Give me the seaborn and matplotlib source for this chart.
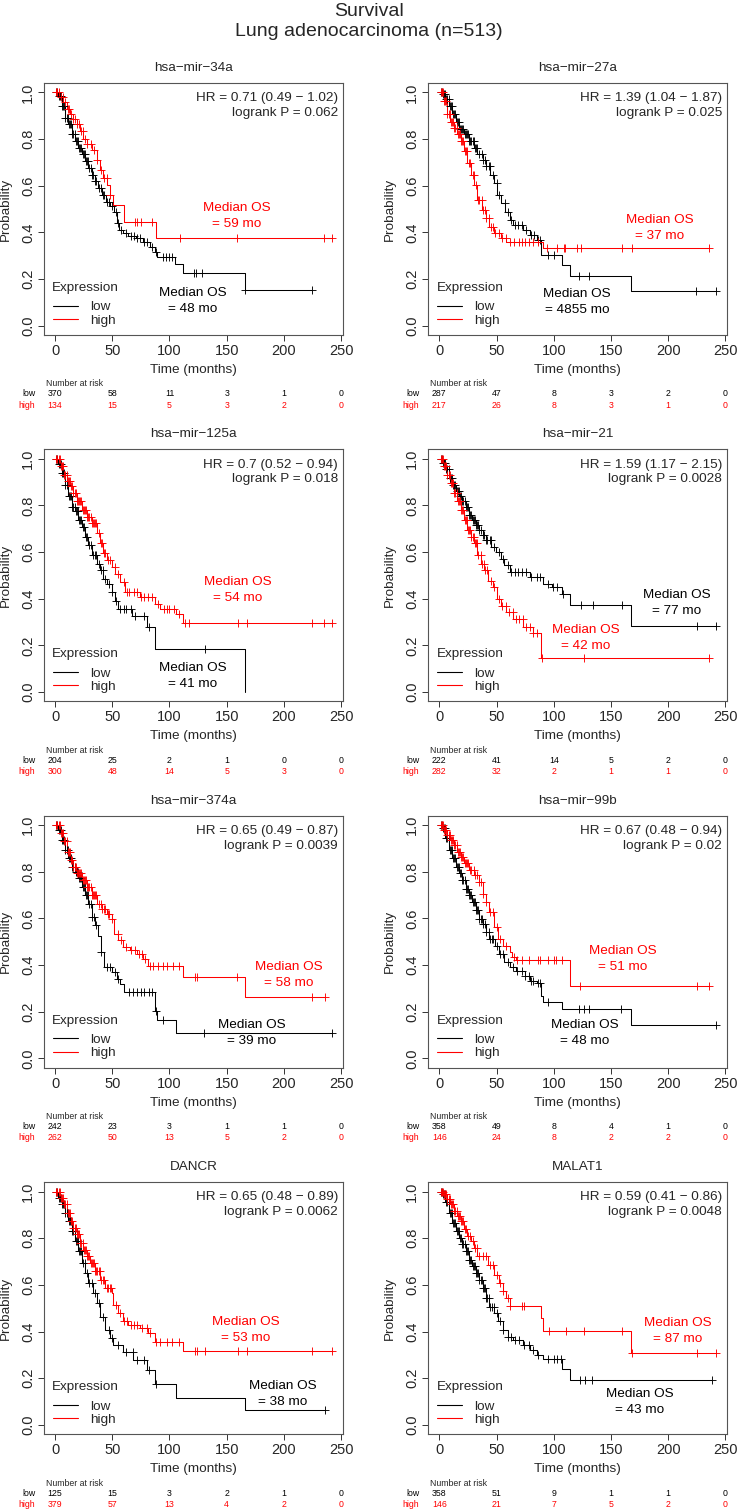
import numpy as np
import matplotlib.pyplot as plt
import matplotlib.transforms as mtransforms
from matplotlib.lines import Line2D
import seaborn as sns

sns.set_theme(style="white")
plt.rcParams['font.family'] = ['Liberation Sans', 'DejaVu Sans']

# ---- datos ----
times_risk = [0, 50, 100, 150, 200, 250]
genes = ["hsa−mir−34a", "hsa−mir−27a", "hsa−mir−125a", "hsa−mir−21",
         "hsa−mir−374a", "hsa−mir−99b", "DANCR", "MALAT1"]
hr_text = ["0.71 (0.49 − 1.02)", "1.39 (1.04 − 1.87)", "0.7 (0.52 − 0.94)", "1.59 (1.17 − 2.15)",
           "0.65 (0.49 − 0.87)", "0.67 (0.48 − 0.94)", "0.65 (0.48 − 0.89)", "0.59 (0.41 − 0.86)"]
logrank_p = ["0.062", "0.025", "0.018", "0.0028", "0.0039", "0.02", "0.0062", "0.0048"]
median_low = [48, 4855, 41, 77, 39, 48, 38, 43]
median_high = [59, 37, 54, 42, 58, 51, 53, 87]
# posicion (t, prob) de las etiquetas de mediana
median_low_pos = [(120.6, 0.105), (120.3, 0.102), (120.6, 0.069), (207.3, 0.383),
                  (172, 0.109), (127, 0.109), (199, 0.132), (175, 0.099)]
median_high_pos = [(159, 0.47), (192.8, 0.417), (159.3, 0.438), (127.7, 0.232),
                   (204.4, 0.359), (160, 0.425), (167, 0.407), (208, 0.401)]

risk_low = [[370, 58, 11, 3, 1, 0], [287, 47, 8, 3, 2, 0], [204, 25, 2, 1, 0, 0], [222, 41, 14, 5, 2, 0],
            [242, 23, 3, 1, 1, 0], [358, 49, 8, 4, 1, 0], [125, 15, 3, 2, 1, 0], [358, 51, 9, 1, 1, 0]]
risk_high = [[134, 15, 5, 3, 2, 0], [217, 26, 8, 3, 1, 0], [300, 48, 14, 5, 3, 0], [282, 32, 2, 1, 1, 0],
             [262, 50, 13, 5, 2, 0], [146, 24, 8, 2, 2, 0], [379, 57, 13, 4, 2, 0], [146, 21, 7, 5, 2, 0]]

# hsa-mir-34a
m34_low_t = [2.9, 5.8, 8.7, 11.6, 14.5, 17.4, 20.3, 23.3, 26.2, 29.1, 32, 34.9, 37.8, 40.7, 44.5, 48, 51.5,
             53.8, 56, 59.6, 64, 71, 77, 82.8, 87.2, 89.2, 104.7, 112, 165.7]
m34_low_s = [0.986, 0.942, 0.892, 0.863, 0.82, 0.791, 0.763, 0.734, 0.705, 0.676, 0.647, 0.619, 0.59, 0.561,
             0.532, 0.511, 0.489, 0.439, 0.41, 0.396, 0.384, 0.374, 0.36, 0.338, 0.317, 0.295, 0.263, 0.227, 0.151]
m34_low_c = [1, 2, 3, 4, 5, 6, 7, 8, 9, 10, 11, 12, 13, 14, 15, 16, 17, 18, 19, 20, 21, 22, 23, 24, 25, 26,
             27, 28, 29, 30, 31, 32, 33, 35, 36, 38, 40, 42, 43, 45, 47, 50, 53, 55, 58, 62, 66, 69, 72, 74,
             78, 80, 85, 88, 94, 97, 100, 102, 121, 123, 128, 166, 225]
m34_high_t = [4.4, 7.3, 10.2, 13.1, 16, 18.9, 21.8, 24.7, 27.6, 32, 36.3, 39.2, 42.2, 45.6, 48, 50.9, 60.2, 87.8]
m34_high_s = [0.978, 0.957, 0.928, 0.906, 0.885, 0.863, 0.835, 0.799, 0.777, 0.755, 0.712, 0.669, 0.633,
              0.604, 0.561, 0.518, 0.446, 0.374]
m34_high_c = [1, 2, 3, 5, 7, 9, 11, 12, 14, 16, 17, 19, 21, 23, 24, 26, 28, 31, 34, 37, 40, 43, 45, 48, 70,
              72, 75, 85, 109, 159, 235, 242]

# hsa-mir-27a
m27_low_t = [2.4, 5.3, 8.3, 11.2, 14.2, 17.1, 21.5, 25.9, 30.4, 33.3, 37.7, 40.7, 44.2, 48.1, 50.4, 54, 57.8,
             61.3, 64.3, 73.1, 79, 84.9, 88.4, 107, 113.8, 167.5]
m27_low_s = [0.993, 0.971, 0.942, 0.906, 0.871, 0.842, 0.82, 0.791, 0.763, 0.734, 0.712, 0.683, 0.647, 0.612,
             0.561, 0.525, 0.489, 0.453, 0.432, 0.41, 0.388, 0.367, 0.302, 0.259, 0.212, 0.147]
m27_low_c = [1, 2, 3, 4, 5, 6, 7, 8, 9, 10, 11, 12, 13, 14, 15, 16, 17, 18, 19, 20, 21, 22, 23, 24, 25, 26,
             27, 28, 29, 30, 31, 32, 33, 35, 37, 38, 40, 41, 43, 44, 47, 50, 52, 57, 60, 63, 66, 69, 72, 76,
             80, 83, 86, 88, 95, 100, 122, 131, 224, 242]
m27_high_t = [3.8, 6.8, 9.7, 12.7, 15.6, 18.6, 21.5, 24.5, 27.4, 30.4, 33.3, 37.1, 40.7, 43.6, 48.1, 54, 58.4, 90.8]
m27_high_s = [0.964, 0.906, 0.871, 0.849, 0.82, 0.791, 0.748, 0.698, 0.647, 0.604, 0.54, 0.496, 0.46, 0.424,
              0.396, 0.374, 0.36, 0.331]
m27_high_c = [1, 2, 3, 4, 5, 6, 7, 8, 9, 10, 11, 12, 13, 14, 15, 16, 17, 18, 19, 20, 21, 22, 23, 24, 26, 27,
              29, 30, 32, 34, 35, 37, 38, 40, 41, 43, 45, 47, 49, 52, 55, 58, 62, 65, 70, 72, 75, 78, 82, 86,
              94, 103, 109, 110, 120, 124, 160, 168, 236]

# hsa-mir-125a
m125_low_t = [2.9, 5.8, 8.7, 11.6, 14.5, 17.4, 20.3, 23.3, 26.2, 29.1, 32, 36.3, 39.2, 42.2, 45.6, 49.4, 52.3,
              55.2, 66.9, 80, 87.2, 165.7]
m125_low_s = [0.976, 0.94, 0.889, 0.839, 0.795, 0.774, 0.738, 0.709, 0.666, 0.63, 0.586, 0.55, 0.522, 0.486,
              0.464, 0.428, 0.392, 0.356, 0.327, 0.277, 0.183, 0.0]
m125_low_c = [1, 2, 3, 4, 5, 6, 7, 8, 9, 10, 11, 12, 13, 14, 15, 16, 17, 18, 19, 20, 21, 22, 23, 24, 25, 27,
              28, 30, 31, 33, 35, 36, 38, 40, 42, 44, 47, 50, 53, 57, 60, 62, 66, 70, 78, 82, 131]
m125_high_t = [4.4, 7.3, 10.2, 13.1, 16, 18.9, 23.3, 27.6, 32, 36.3, 39.2, 42.2, 45.1, 49.4, 52.3, 56.7, 61,
               74.1, 87.2, 91.6, 106, 112]
m125_high_s = [0.968, 0.932, 0.903, 0.882, 0.853, 0.817, 0.781, 0.752, 0.723, 0.68, 0.637, 0.594, 0.565,
               0.536, 0.507, 0.471, 0.428, 0.406, 0.378, 0.356, 0.334, 0.294]
m125_high_c = [1, 2, 3, 4, 5, 6, 7, 8, 9, 10, 11, 12, 13, 14, 15, 16, 17, 18, 19, 20, 21, 22, 23, 24, 25, 26,
               27, 28, 29, 30, 31, 32, 33, 34, 35, 36, 38, 40, 41, 43, 44, 46, 48, 52, 55, 60, 63, 65, 69, 72,
               75, 78, 81, 85, 90, 95, 98, 100, 104, 108, 114, 117, 160, 168, 225, 235, 242]

# hsa-mir-21
m21_low_t = [2.4, 5.3, 8.3, 11.2, 14.2, 17.1, 20, 23, 25.9, 28.9, 31.8, 34.8, 37.7, 40.7, 45.1, 49.5, 54,
             56.9, 61.3, 79, 90.8, 98.2, 107, 113.8, 167.5]
m21_low_s = [0.983, 0.954, 0.918, 0.889, 0.86, 0.839, 0.817, 0.795, 0.759, 0.738, 0.716, 0.695, 0.673, 0.651,
             0.622, 0.601, 0.572, 0.543, 0.514, 0.493, 0.464, 0.45, 0.421, 0.375, 0.281]
m21_low_c = [1, 2, 3, 4, 5, 6, 7, 8, 9, 10, 11, 12, 13, 14, 15, 16, 17, 18, 19, 20, 21, 22, 23, 24, 25, 26,
             27, 28, 29, 30, 31, 32, 33, 34, 35, 36, 38, 39, 41, 42, 44, 45, 48, 52, 56, 60, 63, 66, 69, 72,
             76, 80, 85, 88, 95, 99, 103, 108, 124, 134, 160, 225, 242]
m21_high_t = [3.8, 6.8, 9.7, 12.7, 15.6, 18.6, 21.5, 24.5, 27.4, 30.4, 33.3, 36.3, 39.2, 42.2, 46.6, 50.1, 54,
              58.4, 64.3, 73.1, 82, 88.4]
m21_high_s = [0.968, 0.932, 0.896, 0.853, 0.817, 0.781, 0.738, 0.695, 0.666, 0.637, 0.586, 0.55, 0.522,
              0.478, 0.45, 0.399, 0.37, 0.342, 0.313, 0.277, 0.255, 0.147]
m21_high_c = [1, 2, 3, 4, 5, 6, 7, 8, 9, 10, 11, 12, 13, 14, 15, 16, 17, 18, 19, 20, 21, 22, 23, 24, 25, 26,
              27, 28, 29, 30, 31, 32, 33, 34, 36, 37, 39, 40, 42, 45, 48, 52, 55, 58, 61, 64, 67, 70, 73, 76,
              79, 82, 85, 90, 126, 236]

# hsa-mir-374a
m374_low_t = [2.9, 5.8, 8.7, 11.6, 14.5, 17.4, 20.3, 23.3, 26.2, 29.1, 32, 34.9, 37.8, 39.8, 42.7, 49.4, 53.8,
              56.7, 60.2, 87.2, 89.2, 105.5]
m374_low_s = [0.98, 0.937, 0.894, 0.858, 0.822, 0.8, 0.772, 0.736, 0.7, 0.664, 0.606, 0.57, 0.527, 0.455,
              0.391, 0.369, 0.341, 0.319, 0.286, 0.204, 0.164, 0.111]
m374_low_c = [1, 2, 3, 4, 5, 6, 7, 8, 9, 10, 11, 12, 13, 14, 15, 16, 17, 18, 19, 20, 21, 22, 23, 24, 25, 26,
              27, 28, 29, 30, 31, 32, 34, 36, 40, 45, 48, 52, 55, 65, 68, 72, 75, 78, 82, 85, 88, 94, 130, 242]
m374_high_t = [4.4, 7.3, 10.2, 13.1, 16, 18.9, 23.3, 27.6, 32, 36.3, 40.7, 45.1, 49.4, 51.5, 55.2, 59.6, 65.4,
               71.2, 77, 81.4, 112, 165.7]
m374_high_s = [0.966, 0.93, 0.886, 0.851, 0.822, 0.793, 0.764, 0.736, 0.7, 0.664, 0.642, 0.621, 0.599, 0.534,
               0.506, 0.477, 0.463, 0.448, 0.427, 0.398, 0.351, 0.264]
m374_high_c = [1, 2, 3, 4, 5, 6, 7, 8, 9, 10, 11, 12, 13, 14, 15, 16, 17, 18, 19, 20, 21, 22, 23, 24, 25, 26,
               27, 28, 29, 30, 31, 32, 33, 34, 35, 36, 38, 40, 41, 43, 44, 46, 47, 50, 55, 58, 62, 66, 70, 73,
               76, 79, 83, 86, 90, 94, 98, 103, 108, 122, 124, 159, 225, 236]

# hsa-mir-99b
m99_low_t = [2.4, 5.3, 8.3, 11.2, 14.2, 17.1, 20, 23, 25.9, 28.9, 31.8, 34.8, 37.7, 40.7, 43.6, 48.9, 52.5,
             56.9, 61.3, 67.2, 74.6, 79, 84.9, 88.4, 90.8, 107, 167.5]
m99_low_s = [0.987, 0.944, 0.894, 0.858, 0.822, 0.793, 0.764, 0.728, 0.7, 0.671, 0.635, 0.599, 0.578, 0.542,
             0.513, 0.484, 0.448, 0.412, 0.391, 0.376, 0.355, 0.333, 0.322, 0.269, 0.24, 0.211, 0.144]
m99_low_c = [1, 2, 3, 4, 5, 6, 7, 8, 9, 10, 11, 12, 13, 14, 15, 16, 17, 18, 19, 20, 21, 22, 23, 24, 25, 26,
             27, 28, 29, 30, 31, 32, 33, 34, 35, 36, 37, 38, 40, 41, 43, 44, 46, 47, 50, 53, 56, 60, 64, 68,
             72, 75, 78, 80, 82, 86, 88, 95, 122, 126, 131, 159, 242]
m99_high_t = [3.8, 6.8, 9.7, 12.7, 15.6, 18.6, 21.5, 25.9, 30.4, 34.8, 37.7, 40.7, 43.6, 48.1, 51, 55.4, 61.3,
              63.7, 67.2, 113.8]
m99_high_s = [0.98, 0.958, 0.937, 0.915, 0.886, 0.865, 0.836, 0.807, 0.786, 0.757, 0.707, 0.671, 0.628,
              0.563, 0.513, 0.484, 0.455, 0.434, 0.42, 0.312]
m99_high_c = [1, 2, 3, 4, 5, 6, 7, 8, 9, 10, 11, 12, 13, 14, 15, 16, 17, 18, 19, 20, 21, 22, 23, 24, 25, 27,
              28, 30, 31, 33, 35, 36, 38, 41, 44, 47, 50, 53, 58, 65, 68, 72, 78, 86, 88, 95, 100, 102, 107,
              123, 225, 236]

# DANCR
dancr_low_t = [2.9, 5.8, 8.7, 11.6, 14.5, 17.4, 20.3, 23.3, 26.2, 29.1, 33.4, 36.3, 39.2, 43.6, 48, 50.9, 59.6,
               68.3, 80, 87.2, 105.5, 165.7]
dancr_low_s = [0.974, 0.945, 0.91, 0.874, 0.83, 0.787, 0.744, 0.694, 0.651, 0.608, 0.565, 0.522, 0.464,
               0.407, 0.371, 0.342, 0.313, 0.277, 0.234, 0.177, 0.116, 0.062]
dancr_low_c = [1, 2, 3, 4, 5, 6, 7, 8, 9, 10, 11, 12, 13, 14, 15, 16, 17, 18, 19, 20, 21, 22, 23, 24, 26, 28,
               30, 32, 35, 38, 42, 47, 50, 55, 62, 68, 72, 78, 82, 88, 236]
dancr_high_t = [4.4, 7.3, 10.2, 13.1, 16, 18.9, 21.8, 24.7, 27.6, 30.5, 34.9, 39.2, 43.6, 49.4, 50.9, 55.2,
                59.6, 64, 74.1, 81.4, 87.2, 112]
dancr_high_s = [0.974, 0.945, 0.91, 0.874, 0.845, 0.816, 0.78, 0.751, 0.723, 0.694, 0.658, 0.622, 0.586,
                0.565, 0.514, 0.478, 0.443, 0.428, 0.414, 0.392, 0.356, 0.318]
dancr_high_c = [1, 2, 3, 4, 5, 6, 7, 8, 9, 10, 11, 12, 13, 14, 15, 16, 17, 18, 19, 20, 21, 22, 23, 24, 25, 26,
                27, 28, 29, 30, 31, 32, 33, 34, 35, 36, 37, 38, 39, 40, 42, 43, 45, 46, 48, 49, 53, 57, 60, 63,
                66, 69, 72, 76, 80, 83, 88, 92, 98, 102, 108, 122, 124, 131, 160, 168, 225, 242]

# MALAT1
malat_low_t = [2.4, 5.3, 8.3, 11.2, 14.2, 17.1, 20, 23, 25.9, 28.9, 31.8, 34.8, 37.7, 40.7, 43.6, 48.1, 51,
               55.4, 59.8, 64.3, 73.1, 79, 84.9, 90.8, 107, 113.8]
malat_low_s = [0.989, 0.953, 0.91, 0.866, 0.83, 0.802, 0.773, 0.744, 0.708, 0.68, 0.651, 0.622, 0.586, 0.543,
               0.507, 0.478, 0.443, 0.407, 0.378, 0.364, 0.342, 0.32, 0.299, 0.282, 0.241, 0.194]
malat_low_c = [1, 2, 3, 4, 5, 6, 7, 8, 9, 10, 11, 12, 13, 14, 15, 16, 17, 18, 19, 20, 21, 22, 23, 24, 25, 26,
               27, 28, 29, 30, 31, 32, 33, 34, 35, 36, 37, 38, 39, 40, 41, 42, 43, 44, 46, 48, 50, 53, 56, 60,
               63, 66, 70, 74, 78, 82, 86, 95, 100, 103, 106, 123, 127, 133, 238]
malat_high_t = [3.8, 6.8, 9.7, 12.7, 15.6, 18.6, 21.5, 24.5, 27.4, 30.4, 33.3, 42.2, 48.1, 52.5, 55.4, 58.4,
                61.3, 88.4, 90.2, 167.5]
malat_high_s = [0.989, 0.966, 0.945, 0.917, 0.895, 0.874, 0.838, 0.809, 0.787, 0.759, 0.723, 0.687, 0.644,
                0.609, 0.573, 0.544, 0.508, 0.457, 0.404, 0.306]
malat_high_c = [1, 2, 3, 4, 5, 6, 7, 8, 9, 10, 11, 12, 13, 14, 15, 16, 17, 18, 19, 20, 21, 22, 23, 25, 27, 29,
                31, 33, 35, 38, 41, 44, 47, 50, 53, 56, 60, 62, 72, 74, 96, 111, 126, 160, 168, 225, 242]

curves = [
    ((m34_low_t, m34_low_s, m34_low_c), (m34_high_t, m34_high_s, m34_high_c)),
    ((m27_low_t, m27_low_s, m27_low_c), (m27_high_t, m27_high_s, m27_high_c)),
    ((m125_low_t, m125_low_s, m125_low_c), (m125_high_t, m125_high_s, m125_high_c)),
    ((m21_low_t, m21_low_s, m21_low_c), (m21_high_t, m21_high_s, m21_high_c)),
    ((m374_low_t, m374_low_s, m374_low_c), (m374_high_t, m374_high_s, m374_high_c)),
    ((m99_low_t, m99_low_s, m99_low_c), (m99_high_t, m99_high_s, m99_high_c)),
    ((dancr_low_t, dancr_low_s, dancr_low_c), (dancr_high_t, dancr_high_s, dancr_high_c)),
    ((malat_low_t, malat_low_s, malat_low_c), (malat_high_t, malat_high_s, malat_high_c)),
]

# ---- figura ----
W, H = 738, 1509
fig = plt.figure(figsize=(W / 100, H / 100), dpi=100)
FS = 9.7
FS_RISK = 6.3
AX_W, AX_H = 299, 252
RED, BLACK = "#FF0000", "#000000"


def px_axes(left, top):
    return fig.add_axes([left / W, 1 - (top + AX_H) / H, AX_W / W, AX_H / H])


def surv_at(t, s, x):
    idx = np.searchsorted(np.asarray(t), np.asarray(x), side="right")
    return np.r_[1.0, s][idx]


fig.text(0.5, 1 - 12 / H, "Survival", ha="center", va="center", fontsize=14)
fig.text(0.5, 1 - 32 / H, "Lung adenocarcinoma (n=513)", ha="center", va="center", fontsize=14)

for i, gene in enumerate(genes):
    row, col = divmod(i, 2)
    ax = px_axes(44 if col == 0 else 428.3, 83 + 366.4 * row)

    for (t, s, c), color in zip(curves[i], [BLACK, RED]):
        end = max(max(c), t[-1])
        xs = [0] + list(t) + [end]
        ys = [1.0] + list(s) + [s[-1]]
        sns.lineplot(x=xs, y=ys, drawstyle="steps-post", color=color, lw=0.75,
                     estimator=None, sort=False, ax=ax)
        sns.scatterplot(x=c, y=surv_at(t, s, c), marker="+", s=28, color=color,
                        linewidth=0.65, ax=ax, zorder=3)

    ax.set_xlim(-9.68, 251.68)
    ax.set_ylim(-0.04, 1.04)
    ax.set_xticks(times_risk)
    ax.set_xticklabels([str(v) for v in times_risk])
    yt = [0, 0.2, 0.4, 0.6, 0.8, 1.0]
    ax.set_yticks(yt)
    ax.set_yticklabels([f"{v:.1f}" for v in yt], rotation=90, va="center")
    ax.tick_params(direction="out", length=4.5, width=0.7, color="#333333",
                   labelsize=10.5, pad=2, bottom=True, left=True)
    for sp in ax.spines.values():
        sp.set_color("#555555")
        sp.set_linewidth(0.8)
    ax.set_xlabel("Time (months)", fontsize=FS)
    ax.xaxis.set_label_coords(0.5, -35 / AX_H)
    ax.xaxis.label.set_va("center")
    ax.set_ylabel("Probability", fontsize=FS)
    ax.yaxis.set_label_coords(-38 / AX_W, 0.5)
    ax.yaxis.label.set_va("center")

    ax.text(0.5, 1 + 15 / AX_H, gene, transform=ax.transAxes, ha="center", va="center", fontsize=FS)
    ax.text(0.983, 0.94, f"HR = {hr_text[i]}", transform=ax.transAxes, ha="right", va="center", fontsize=FS)
    ax.text(0.983, 0.881, f"logrank P = {logrank_p[i]}", transform=ax.transAxes,
            ha="right", va="center", fontsize=FS)

    lx, ly = median_low_pos[i]
    ax.text(lx, ly, f"Median OS\n= {median_low[i]} mo", ha="center", va="center",
            fontsize=FS, color=BLACK, linespacing=1.45)
    hx, hy = median_high_pos[i]
    ax.text(hx, hy, f"Median OS\n= {median_high[i]} mo", ha="center", va="center",
            fontsize=FS, color=RED, linespacing=1.45)

    # leyenda
    handles = [Line2D([], [], color=BLACK, lw=0.8), Line2D([], [], color=RED, lw=0.8)]
    ax.legend(handles, ["low", "high"], loc="lower left",
              bbox_to_anchor=(0.03, 0.033), frameon=False, fontsize=FS,
              handlelength=1.85, handletextpad=0.9, labelspacing=0.07, borderpad=0,
              borderaxespad=0)
    ax.text(0.139, 0.187, "Expression", transform=ax.transAxes, ha="center", va="center", fontsize=FS)

    # tabla de numero en riesgo
    trans = mtransforms.blended_transform_factory(ax.transData, ax.transAxes)
    ax.text(-8.1, -49 / AX_H, "Number at risk", transform=trans, ha="left", va="center", fontsize=FS_RISK)
    ax.text(-17.4, -59 / AX_H, "low", transform=trans, ha="right", va="center", fontsize=FS_RISK, color=BLACK)
    ax.text(-17.4, -70 / AX_H, "high", transform=trans, ha="right", va="center", fontsize=FS_RISK, color=RED)
    for tr, nl, nh in zip(times_risk, risk_low[i], risk_high[i]):
        ax.text(tr, -59 / AX_H, str(nl), transform=trans, ha="center", va="center",
                fontsize=FS_RISK, color=BLACK)
        ax.text(tr, -70 / AX_H, str(nh), transform=trans, ha="center", va="center",
                fontsize=FS_RISK, color=RED)

fig.savefig("out.png", dpi=100)
